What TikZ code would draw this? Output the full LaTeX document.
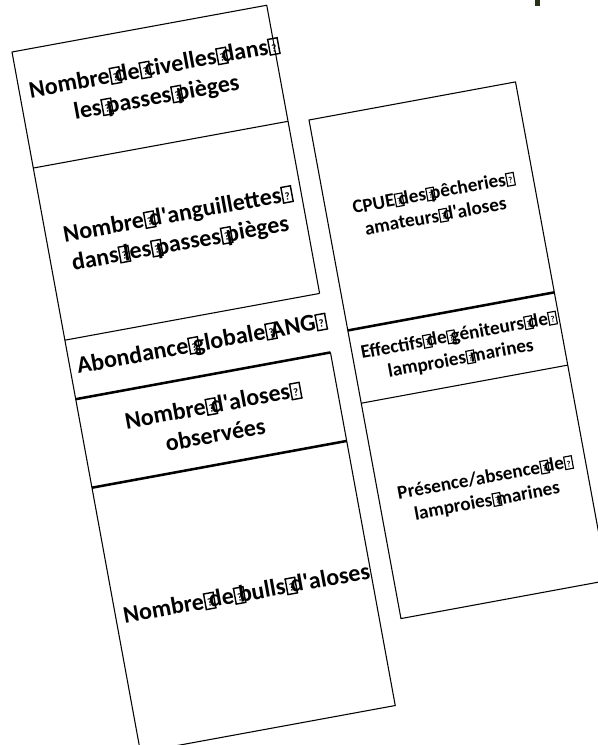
\documentclass[tikz,border=0pt]{standalone}
\usepackage{fontspec}
\setmainfont{Carlito}
\newcommand\nd{\makebox[0.226em][l]{\kern0.02em\raisebox{-0.01em}{\fboxsep=0pt\fboxrule=0.06em\fbox{\vrule width0pt height0.6em\hbox to 0.34em{\hss\raisebox{0.08em}{\scalebox{0.45}{?}}\hss}}}}}
\newcommand\apos{\textquotesingle}
\definecolor{darkolive}{RGB}{38,50,20}
\begin{document}
\begin{tikzpicture}[x=0.75pt,y=-0.75pt,
  edge/.style={line width=0.8pt, line join=miter},
  thickedge/.style={line width=1.9pt},
  lbl/.style={font=\bfseries\fontsize{18}{22}\selectfont, align=center, transform shape, inner sep=0pt},
  rlbl/.style={font=\bfseries\fontsize{14.4}{17.4}\selectfont, align=center, transform shape, inner sep=0pt}]
\useasboundingbox (0,0) rectangle (598,745);
\clip (0,0) rectangle (598,745);
\fill[darkolive] (535,0) rectangle (540,6);
% left column
\begin{scope}[shift={(12,52)}, rotate=10.4]
  \draw[edge] (259,293) -- (259,0) -- (0,0) -- (0,712) -- (259,712) -- (259,353);
  \draw[edge] (0,118) -- (259,118);
  \draw[edge] (0,293) -- (259,293);
  \draw[thickedge] (0,353) -- (259,353);
  \draw[thickedge] (0,443) -- (259,443);
  \node[lbl] (civ) at (134,57) {Nombre\nd de\nd civelles\nd dans\nd\\les\nd passes\nd pièges};
  \node[lbl] (ang) at (131,205) {Nombre\nd d\apos anguillettes\nd\\dans\nd les\nd passes\nd pièges};
  \node[lbl] (abd) at (131,322) {Abondance\nd globale\nd ANG\nd};
  \node[lbl] (alo) at (131,398) {Nombre\nd d\apos aloses\nd\\observées};
  \node[lbl] (bul) at (133,575) {Nombre\nd de\nd bulls\nd d\apos aloses};
\end{scope}
% right column
\begin{scope}[shift={(309,120)}, rotate=10.45]
  \draw[edge] (0,0) rectangle (210,507);
  \draw[thickedge] (0,214) -- (210,214);
  \draw[edge] (0,288) -- (210,288);
  \node[rlbl] (cpue) at (107,106) {CPUE\nd des\nd pêcheries\nd\\amateurs\nd d\apos aloses};
  \node[rlbl] (eff) at (106,251) {Effectifs\nd de\nd géniteurs\nd de\nd\\lamproies\nd marines};
  \node[rlbl] (pres) at (106,396) {Présence/absence\nd de\nd\\lamproies\nd marines};
\end{scope}
\end{tikzpicture}
\end{document}
